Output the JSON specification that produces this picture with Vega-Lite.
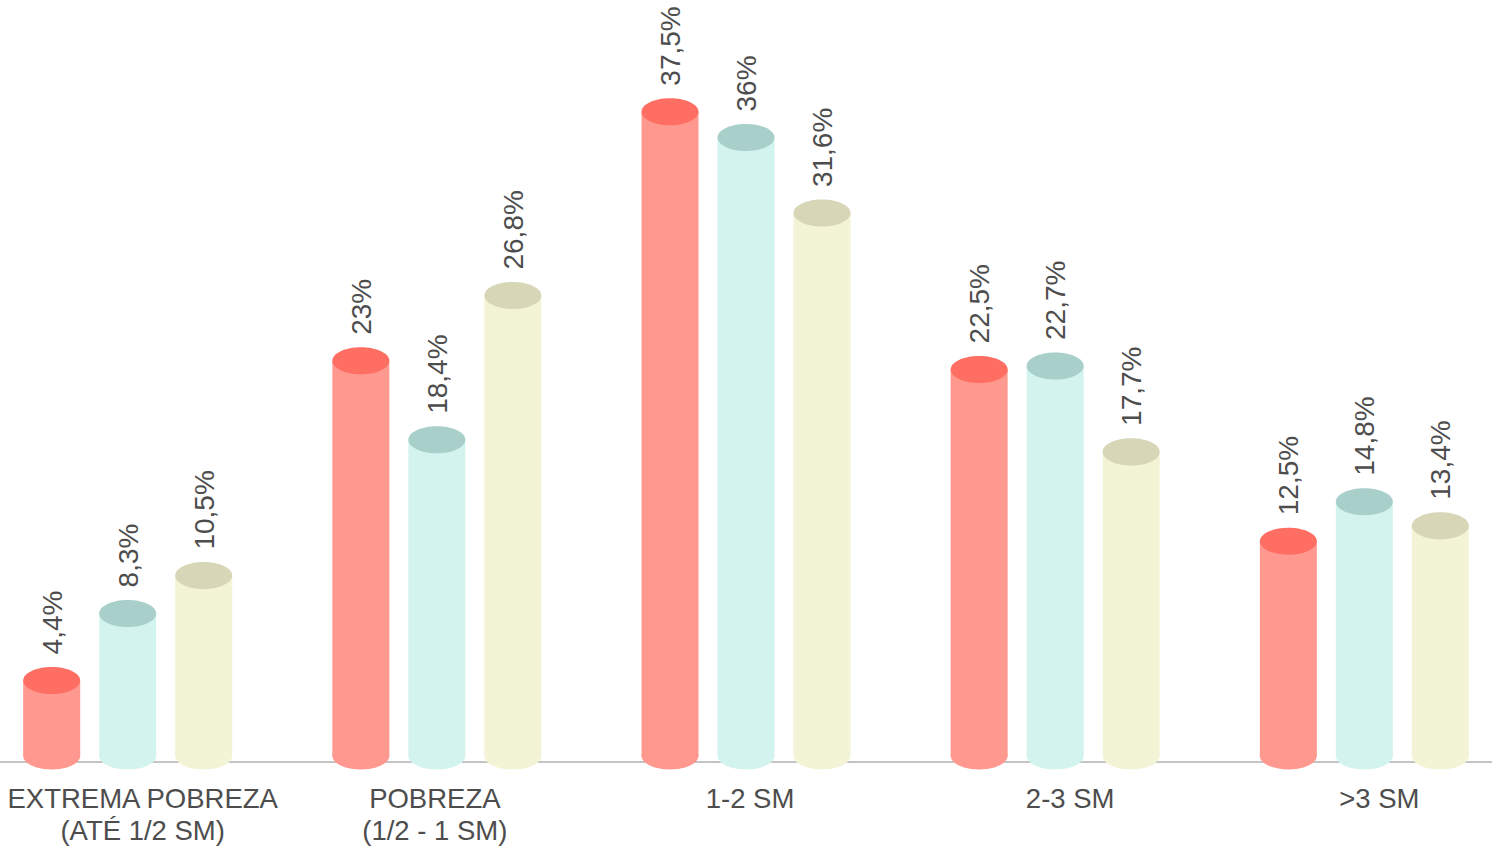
{
  "$schema": "https://vega.github.io/schema/vega-lite/v6.json",
  "autosize": "none",
  "width": 1492,
  "height": 756,
  "padding": {"left": 0, "top": 0, "right": 0, "bottom": 92},
  "background": "#ffffff",
  "config": {
    "view": {"stroke": null},
    "font": "Liberation Sans"
  },
  "data": {
    "values": [
      {"grupo": "EXTREMA POBREZA|(ATÉ 1/2 SM)", "serie": "s1", "valor": 4.4},
      {"grupo": "EXTREMA POBREZA|(ATÉ 1/2 SM)", "serie": "s2", "valor": 8.3},
      {"grupo": "EXTREMA POBREZA|(ATÉ 1/2 SM)", "serie": "s3", "valor": 10.5},
      {"grupo": "POBREZA|(1/2 - 1 SM)", "serie": "s1", "valor": 23},
      {"grupo": "POBREZA|(1/2 - 1 SM)", "serie": "s2", "valor": 18.4},
      {"grupo": "POBREZA|(1/2 - 1 SM)", "serie": "s3", "valor": 26.8},
      {"grupo": "1-2 SM", "serie": "s1", "valor": 37.5},
      {"grupo": "1-2 SM", "serie": "s2", "valor": 36},
      {"grupo": "1-2 SM", "serie": "s3", "valor": 31.6},
      {"grupo": "2-3 SM", "serie": "s1", "valor": 22.5},
      {"grupo": "2-3 SM", "serie": "s2", "valor": 22.7},
      {"grupo": "2-3 SM", "serie": "s3", "valor": 17.7},
      {"grupo": ">3 SM", "serie": "s1", "valor": 12.5},
      {"grupo": ">3 SM", "serie": "s2", "valor": 14.8},
      {"grupo": ">3 SM", "serie": "s3", "valor": 13.4}
    ]
  },
  "transform": [
    {"calculate": "replace(format(datum.valor, '.1~f'), '.', ',') + '%'", "as": "rotulo"}
  ],
  "encoding": {
    "x": {
      "field": "grupo",
      "type": "nominal",
      "sort": null,
      "scale": {"paddingInner": 0.324, "paddingOuter": 0.075},
      "axis": {
        "title": null,
        "domain": false,
        "ticks": false,
        "labelAngle": 0,
        "labelExpr": "split(datum.label, '|')",
        "labelFont": "Liberation Sans",
        "labelFontSize": 27.5,
        "labelColor": "#4d4d4d",
        "labelLineHeight": 32,
        "labelPadding": 29,
        "labelOffset": {
          "condition": [
            {"test": "datum.value == 'POBREZA|(1/2 - 1 SM)'", "value": -2},
            {"test": "datum.value == '1-2 SM'", "value": 4}
          ],
          "value": 15
        },
        "labelLimit": 600
      }
    },
    "xOffset": {
      "field": "serie",
      "type": "nominal",
      "scale": {"paddingInner": 0.25, "paddingOuter": 0}
    },
    "y": {
      "field": "valor",
      "type": "quantitative",
      "scale": {"domain": [0, 44], "nice": false, "zero": true},
      "axis": null
    }
  },
  "layer": [
    {
      "mark": {"type": "rule", "stroke": "#c4c4c4", "strokeWidth": 2, "yOffset": 6},
      "encoding": {
        "x": null,
        "xOffset": null,
        "y": {"datum": 0, "type": "quantitative", "scale": {"domain": [0, 44], "nice": false}}
      }
    },
    {
      "mark": {
        "type": "point",
        "filled": true,
        "opacity": 1,
        "strokeWidth": 0,
        "size": 3249,
        "shape": "M-1,0A1,0.474,0,1,1,1,0A1,0.474,0,1,1,-1,0Z"
      },
      "encoding": {
        "y": {"datum": 0, "type": "quantitative"},
        "color": {
          "field": "serie",
          "type": "nominal",
          "legend": null,
          "scale": {"domain": ["s1", "s2", "s3"], "range": ["#ff998f", "#d3f3ef", "#f3f3d5"]}
        }
      }
    },
    {
      "mark": {"type": "bar"},
      "encoding": {
        "y2": {"datum": 0},
        "color": {
          "field": "serie",
          "type": "nominal",
          "legend": null,
          "scale": {"domain": ["s1", "s2", "s3"], "range": ["#ff998f", "#d3f3ef", "#f3f3d5"]}
        }
      }
    },
    {
      "mark": {
        "type": "point",
        "filled": true,
        "opacity": 1,
        "strokeWidth": 0,
        "size": 3249,
        "shape": "M-1,0A1,0.474,0,1,1,1,0A1,0.474,0,1,1,-1,0Z"
      },
      "encoding": {
        "fill": {
          "field": "serie",
          "type": "nominal",
          "legend": null,
          "scale": {"domain": ["s1", "s2", "s3"], "range": ["#ff6e63", "#a9cfcb", "#d7d7b8"]}
        }
      }
    },
    {
      "mark": {
        "type": "text",
        "angle": 270,
        "align": "left",
        "baseline": "middle",
        "dx": 26,
        "dy": 2,
        "font": "Liberation Sans",
        "fontSize": 28,
        "fill": "#4d4d4d"
      },
      "encoding": {
        "text": {"field": "rotulo", "type": "nominal"}
      }
    }
  ]
}
